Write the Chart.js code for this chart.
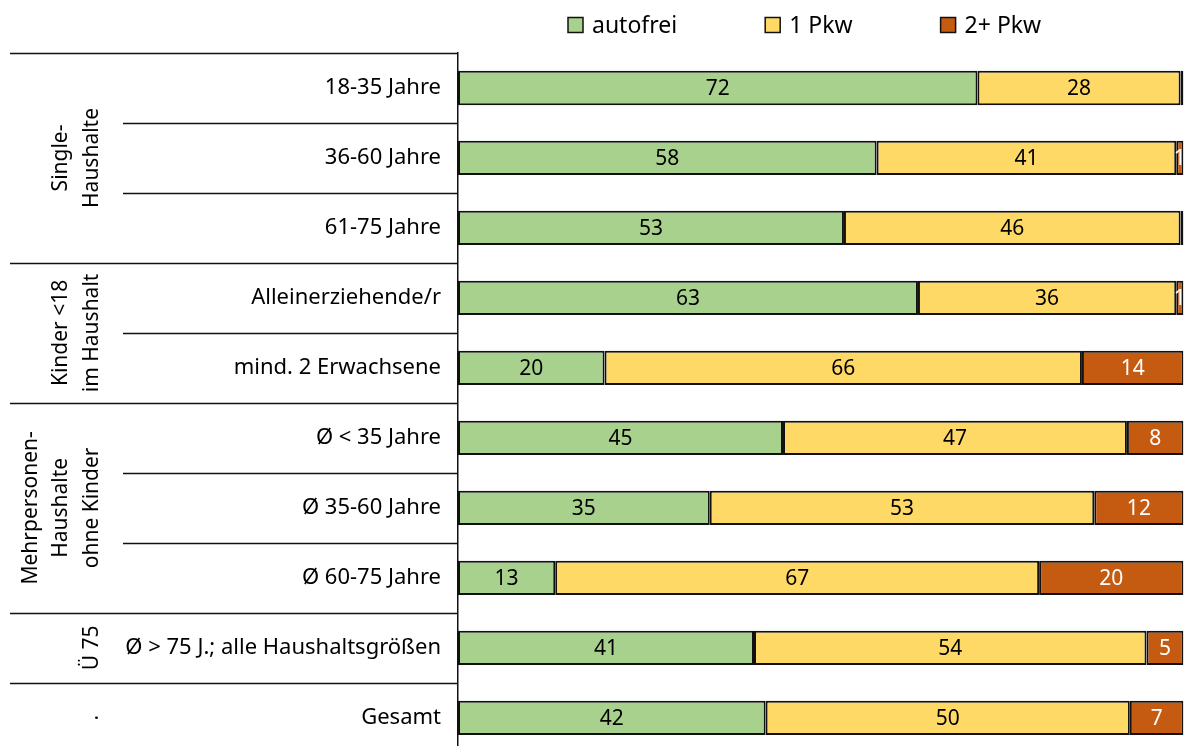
<!DOCTYPE html>
<html>
<head>
<meta charset="utf-8">
<script src="https://cdn.jsdelivr.net/npm/chart.js@4.4.1/dist/chart.umd.min.js"></script>
<style>
  html, body { margin: 0; padding: 0; background: #fff; overflow: hidden; }
  #wrap { position: relative; width: 1187px; height: 783px; }
</style>
</head>
<body>
<div id="wrap"><canvas id="chart"></canvas></div>
<script>
// Categories (top to bottom) and their groups
const categories = [
  '18-35 Jahre',
  '36-60 Jahre',
  '61-75 Jahre',
  'Alleinerziehende/r',
  'mind. 2 Erwachsene',
  'Ø < 35 Jahre',
  'Ø 35-60 Jahre',
  'Ø 60-75 Jahre',
  'Ø > 75 J.; alle Haushaltsgrößen',
  'Gesamt'
]
const groups = [
  { lines: ['Single-', 'Haushalte'], from: 0, to: 2 },
  { lines: ['Kinder <18', 'im Haushalt'], from: 3, to: 4 },
  { lines: ['Mehrpersonen-', 'Haushalte', 'ohne Kinder'], from: 5, to: 7 },
  { lines: ['Ü 75'], from: 8, to: 8 },
  { lines: ['.'], from: 9, to: 9 }
]

// Series values (percent)
const autofrei = [71.6, 57.7, 53.2, 63.4, 20.2, 44.8, 34.7, 13.4, 40.8, 42.4]
const einPkw = [28.0, 41.3, 46.4, 35.6, 65.8, 47.4, 53.0, 66.7, 54.1, 50.2]
const zweiPkw = [0.4, 1.0, 0.4, 1.0, 14.0, 7.8, 12.3, 19.9, 5.1, 7.4]

const FONT = '"Noto Sans", "Open Sans", sans-serif'
const LINE = '#111111'

// Draw rounded values in the middle of each segment
const valueLabels = {
  id: 'valueLabels',
  afterDatasetsDraw(chart) {
    const ctx = chart.ctx
    ctx.save()
    ctx.font = `21px ${FONT}`
    ctx.textAlign = 'center'
    ctx.textBaseline = 'middle'
    chart.data.datasets.forEach((ds, di) => {
      const meta = chart.getDatasetMeta(di)
      meta.data.forEach((bar, i) => {
        const v = Math.round(ds.data[i])
        if (v < 1) return
        ctx.fillStyle = di === 2 ? '#ffffff' : '#000000'
        ctx.fillText(String(v), (bar.x + bar.base) / 2, bar.y + 1)
      })
    })
    ctx.restore()
  }
}

// Legend row above the plot
const topLegend = {
  id: 'topLegend',
  afterDraw(chart) {
    const ctx = chart.ctx
    ctx.save()
    ctx.font = `23px ${FONT}`
    ctx.textBaseline = 'middle'
    ctx.textAlign = 'left'
    let x = chart.chartArea.left + 110
    const cy = 25
    chart.data.datasets.forEach((ds) => {
      ctx.fillStyle = ds.backgroundColor
      ctx.fillRect(x, cy - 7.5, 15, 15)
      ctx.strokeStyle = LINE
      ctx.lineWidth = 1.5
      ctx.strokeRect(x, cy - 7.5, 15, 15)
      ctx.fillStyle = '#000'
      ctx.fillText(ds.label, x + 24, cy + 1)
      x += 24 + ctx.measureText(ds.label).width + 88
    })
    ctx.restore()
  }
}

// Group separators and rotated group titles on the left
const groupPanel = {
  id: 'groupPanel',
  afterDraw(chart) {
    const ctx = chart.ctx
    const y = chart.scales.y
    const slot = (y.bottom - y.top) / categories.length
    const axisX = chart.chartArea.left
    ctx.save()
    ctx.strokeStyle = LINE
    ctx.lineWidth = 1.5
    const starts = groups.map((g) => g.from)
    for (let k = 0; k < categories.length; k++) {
      const yy = Math.round(y.top + k * slot) + 0.5
      const x0 = starts.includes(k) ? 10 : 123
      ctx.beginPath()
      ctx.moveTo(x0, yy)
      ctx.lineTo(axisX, yy)
      ctx.stroke()
    }
    ctx.fillStyle = '#000'
    ctx.font = `21px ${FONT}`
    ctx.textAlign = 'center'
    ctx.textBaseline = 'middle'
    groups.forEach((g) => {
      const cy = y.top + ((g.from + g.to + 1) / 2) * slot
      const n = g.lines.length
      g.lines.forEach((t, i) => {
        const cx = 92 - (n - 1 - i) * 30.5
        ctx.save()
        ctx.translate(cx, cy)
        ctx.rotate(-Math.PI / 2)
        ctx.fillText(t, 0, 0)
        ctx.restore()
      })
    })
    ctx.restore()
  }
}

const ds = (label, data, color) => ({
  label,
  data,
  backgroundColor: color,
  borderColor: LINE,
  borderWidth: 2,
  borderSkipped: false,
  categoryPercentage: 1,
  barPercentage: 0.49
})

new Chart(document.getElementById('chart'), {
  type: 'bar',
  data: {
    labels: categories,
    datasets: [
      ds('autofrei', autofrei, '#A9D18E'),
      ds('1 Pkw', einPkw, '#FFD966'),
      ds('2+ Pkw', zweiPkw, '#C55A11')
    ]
  },
  options: {
    indexAxis: 'y',
    responsive: true,
    maintainAspectRatio: false,
    animation: false,
    layout: { padding: { top: 53, right: 3.5, bottom: 0, left: 0 } },
    scales: {
      x: {
        stacked: true,
        min: 0,
        max: 100,
        display: false
      },
      y: {
        stacked: true,
        grid: { display: false, drawTicks: false },
        border: { display: true, color: LINE, width: 1.5 },
        ticks: {
          color: '#000',
          padding: 17,
          font: { family: FONT, size: 22 }
        },
        afterFit(scale) {
          scale.width = 458
        }
      }
    },
    plugins: {
      legend: { display: false },
      tooltip: { enabled: false }
    }
  },
  plugins: [valueLabels, topLegend, groupPanel]
})
</script>
</body>
</html>
